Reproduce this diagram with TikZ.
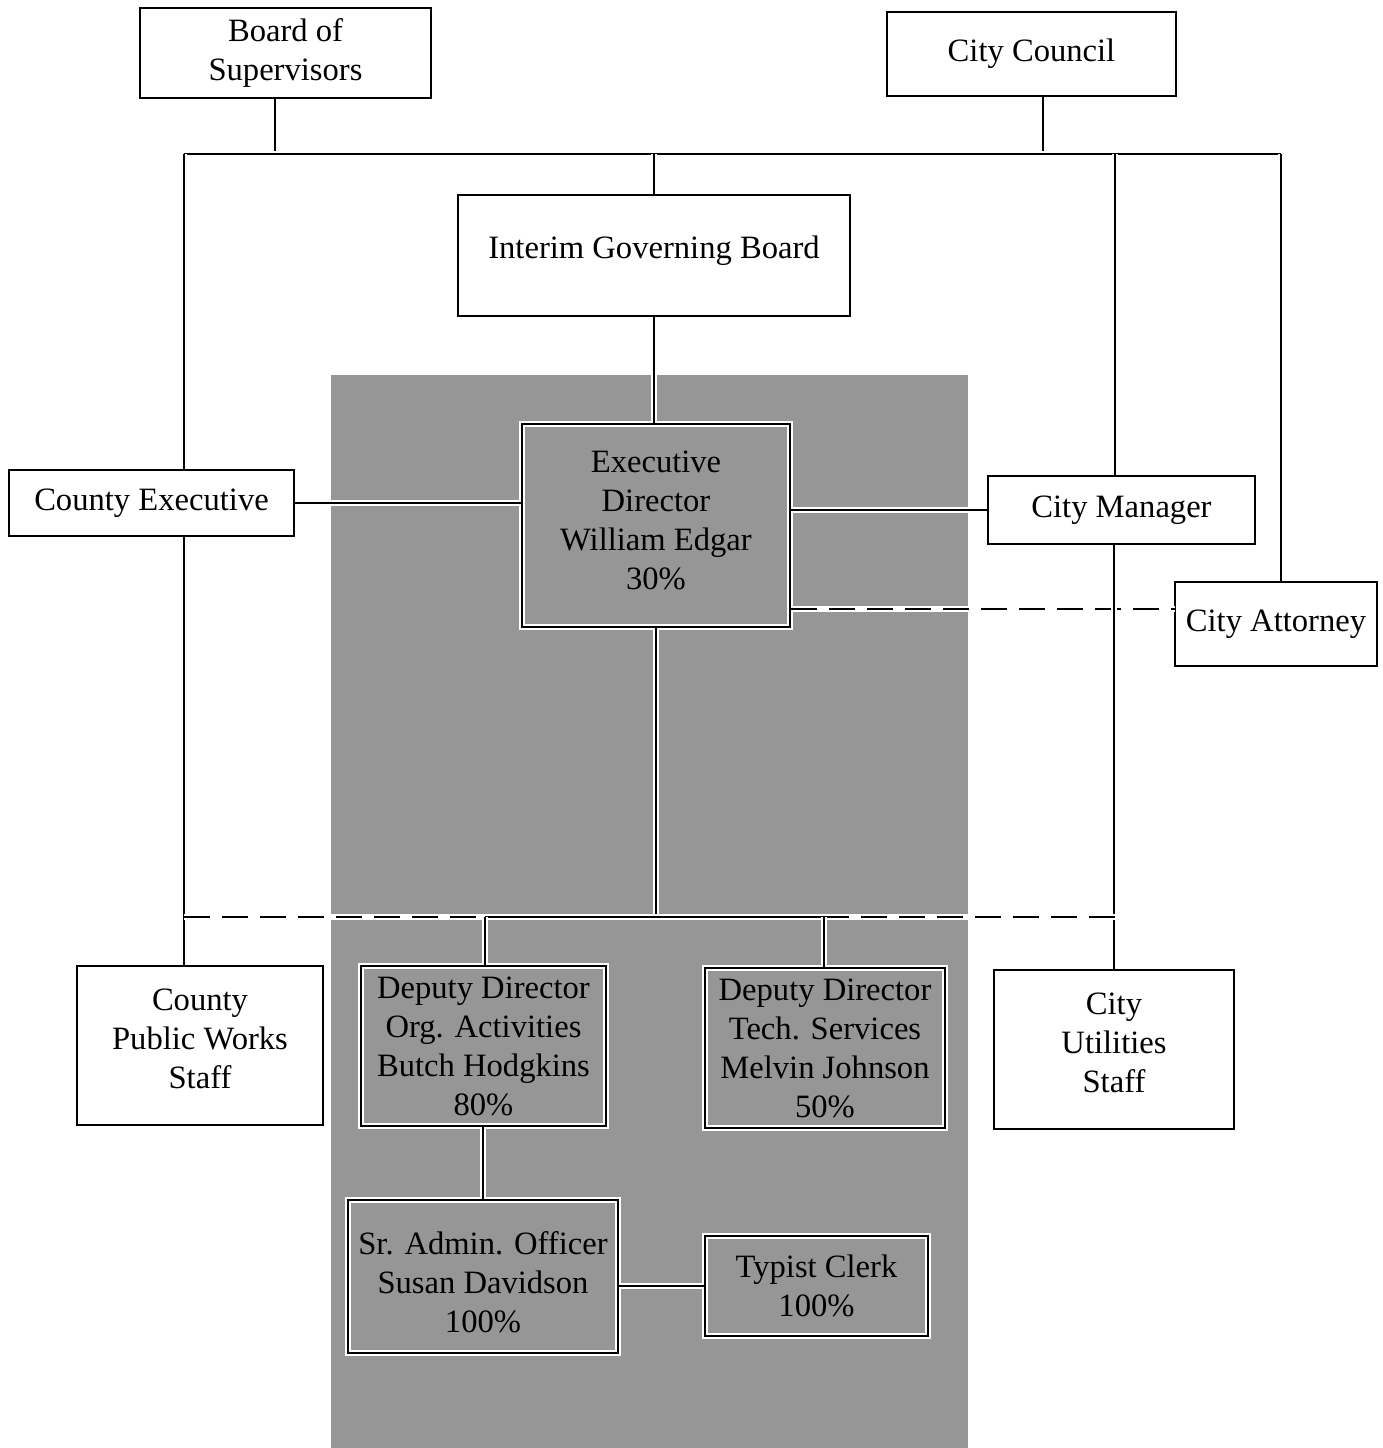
\documentclass[tikz,border=0pt]{standalone}
\usepackage{fontspec}
\setmainfont{Liberation Serif}
\usetikzlibrary{calc}
\definecolor{screen}{RGB}{150,150,150}
\newcommand{\shifted}[2]{\raisebox{#1}[0pt][0pt]{\begin{tabular}{@{}c@{}}#2\end{tabular}}}
\begin{document}
\begin{tikzpicture}[x=0.5pt,y=-0.5pt,
  box/.style={draw=black, line width=1pt, fill=white, inner sep=0pt, align=center,
    font=\fontsize{16.3}{19.5}\selectfont},
  gbox/.style={draw=black, line width=0.9pt, inner sep=0pt, align=center,
    preaction={draw=white, line width=2.6pt},
    font=\fontsize{16.3}{19.5}\selectfont},
  link/.style={line width=1pt, preaction={draw=white, line width=2.6pt}},
  dlink/.style={line width=1.3pt, dash pattern=on 13pt off 6pt, preaction={draw=white, line width=2.6pt}}
]
\useasboundingbox (0,0) rectangle (1383,1448);
% screened background
\fill[screen] (331,375) rectangle (968,1448);

% boxes (sizes in pt = half the pixel size)
\node[box, minimum width=145.5pt, minimum height=45pt] (bos) at (285.5,53) {Board of\\Supervisors};
\node[box, minimum width=144.5pt, minimum height=42pt] (cc) at (1031.5,54) {City Council};
\node[box, minimum width=196pt, minimum height=60.5pt] (igb) at (654,255.5) {\shifted{-2.1pt}{Interim Governing Board}};
\node[box, minimum width=142.5pt, minimum height=33pt] (ce) at (151.5,503) {County Executive};
\node[box, minimum width=133.5pt, minimum height=34pt] (cm) at (1121.5,510) {City Manager};
\node[box, minimum width=101pt, minimum height=42pt] (ca) at (1276,624) {City Attorney};
\node[box, minimum width=123pt, minimum height=79.5pt] (cpw) at (200,1045.5) {\shifted{-2.6pt}{County\\Public Works\\Staff}};
\node[box, minimum width=120pt, minimum height=79.5pt] (cus) at (1114,1049.5) {\shifted{-2.3pt}{City\\Utilities\\Staff}};

\node[gbox, minimum width=134pt, minimum height=101.5pt] (ed) at (656,525.5)
  {\shifted{-3.3pt}{Executive\\Director\\William Edgar\\30\%}};
\node[gbox, minimum width=122.5pt, minimum height=80pt] (dd1) at (483.5,1046)
  {Deputy Director\\Org. Activities\\Butch Hodgkins\\80\%};
\node[gbox, minimum width=120pt, minimum height=80pt] (dd2) at (825,1048)
  {Deputy Director\\Tech. Services\\Melvin Johnson\\50\%};
\node[gbox, minimum width=135pt, minimum height=76.5pt] (sao) at (483,1276.5)
  {\shifted{-9.1pt}{Sr. Admin. Officer\\Susan Davidson\\100\%}};
\node[gbox, minimum width=111.5pt, minimum height=50pt] (tc) at (816.5,1286)
  {Typist Clerk\\100\%};

% junction coordinates
\coordinate (hl) at (184,154);
\coordinate (hr) at (1281,154);
\coordinate (bosd) at ($(bos.south)+(-10.5,0)$);
\coordinate (ccd) at ($(cc.south)+(11.5,0)$);
\coordinate (cmx) at (1115,154);
\coordinate (jl) at (184,917);
\coordinate (jr) at (1115,917);
\coordinate (jm) at (ed.south |- jl);
\coordinate (j1) at (485,917);
\coordinate (j2) at (824,917);
\coordinate (caw) at (1175,609);
\coordinate (edw) at (ed.east |- caw);

% top connectors
\draw[link] (bosd) -- (bosd |- hl);
\draw[link] (ccd) -- (ccd |- hl);
\draw[link] (hl) -- (hr);
\draw[link] (igb.north |- hl) -- (igb.north);
\draw[link] (igb.south) -- (igb.south |- ed.north);
\draw[link] (hl) -- (hl |- ce.north);
\draw[link] (cmx) -- (cmx |- cm.north);
\draw[link] (hr) -- (hr |- ca.north);

% middle connectors
\draw[link] (ce.east) -- (ce.east -| ed.west);
\draw[link] (cm.west -| ed.east) -- (cm.west);
\draw[dlink] (edw) -- (caw);
\draw[link] (hl |- ce.south) -- (hl |- cpw.north);
\draw[link] (cus.north |- cm.south) -- (cus.north);

% lower junction
\draw[link] (ed.south) -- (jm);
\draw[dlink] (jl) -- (j1);
\draw[dlink] (jr) -- (j2);
\draw[link] (j1) -- (j2);
\draw[link] (j1) -- (j1 |- dd1.north);
\draw[link] (j2) -- (j2 |- dd2.north);
\draw[link] (sao.north) -- (sao.north |- dd1.south);
\draw[link] (tc.west) -- (tc.west -| sao.east);
\end{tikzpicture}
\end{document}
